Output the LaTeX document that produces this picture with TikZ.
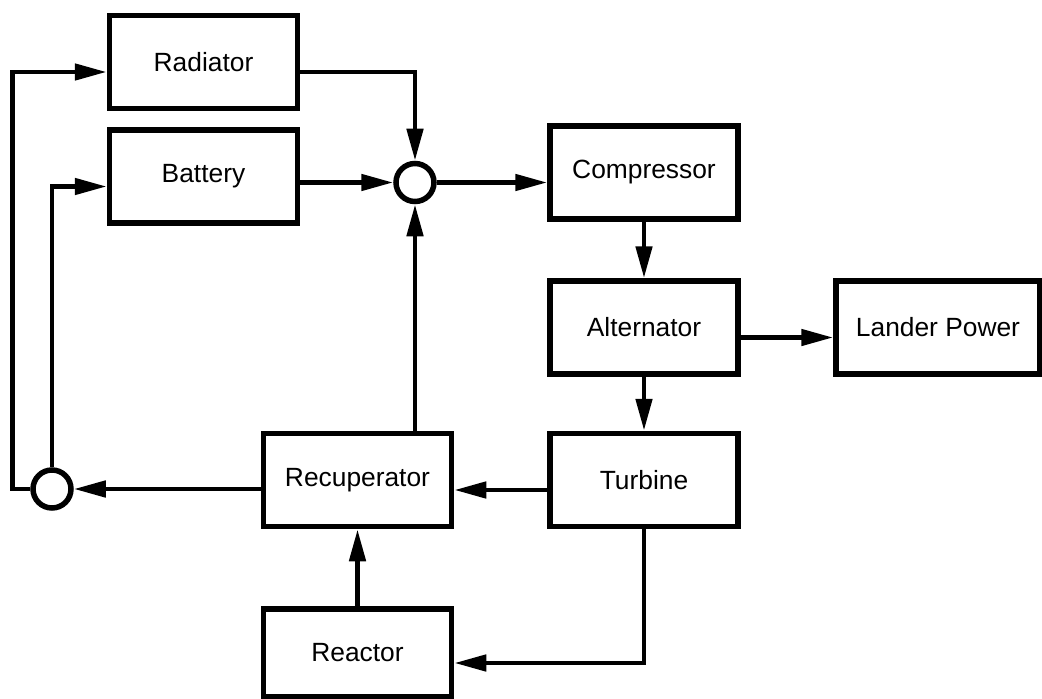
\documentclass[tikz,border=0pt]{standalone}
\usepackage{fontspec}
\setmainfont{Liberation Sans}
\usetikzlibrary{arrows.meta, positioning}

\begin{document}
\begin{tikzpicture}[node distance=1.1cm, auto]
        \tikzstyle{block} = [rectangle, draw, line width=0.11cm, minimum width=3.76cm,
            minimum height=1.86cm, text centered, font=\fontsize{15}{18}\selectfont]
        \tikzstyle{junction} = [circle, draw, line width=0.11cm, minimum size=0.76cm, inner sep=0pt]
        \tikzstyle{line} = [draw, line width=0.095cm, -{Triangle[length=0.64cm, width=0.32cm]}]
        \useasboundingbox (0,0) rectangle (20.84,13.96);

        \node [block] at (4.07,12.72) (radiator) {Radiator};
        \node [block, below=0.32cm of radiator] (battery) {Battery};
        \node [junction] at (8.3,10.31) (mix) {};
        \node [block] at (12.88,10.51) (compressor) {Compressor};
        \node [block, below=1.13cm of compressor] (alternator) {Alternator};
        \node [block, right=1.85cm of alternator, minimum width=4.08cm] (lander) {Lander Power};
        \node [block, below=1.08cm of alternator] (turbine) {Turbine};
        \node [block, left=1.86cm of turbine] (recup) {Recuperator};
        \node [block, below=1.54cm of recup, minimum height=1.76cm] (reactor) {Reactor};
        \node [junction] at (1.04,4.18) (split) {};

        \path [line] ([yshift=-0.2cm]radiator.east) -| (mix.north);
        \path [line] (battery.east |- mix.west) -- (mix.west);
        \path [line] (mix.east) -- (mix.east -| compressor.west);
        \path [line] (compressor) -- (alternator);
        \path [line] ([yshift=-0.2cm]alternator.east) -- ([yshift=-0.2cm]alternator.east -| lander.west);
        \path [line] (alternator) -- (turbine);
        \path [line] ([yshift=-0.2cm]turbine.west) -- ([yshift=-0.2cm]turbine.west -| recup.east);
        \path [line] (turbine.south) |- ([yshift=-0.2cm]reactor.east);
        \path [line] (reactor) -- (recup);
        \path [line] (mix |- recup.north) -- (mix.south);
        \path [line] (recup.west |- split.east) -- (split.east);
        \path [line] (split.west) -- ++(-0.36,0) |- ([yshift=-0.2cm]radiator.west);
        \path [line] (split.north) |- ([yshift=-0.2cm]battery.west);
    \end{tikzpicture}
\end{document}
